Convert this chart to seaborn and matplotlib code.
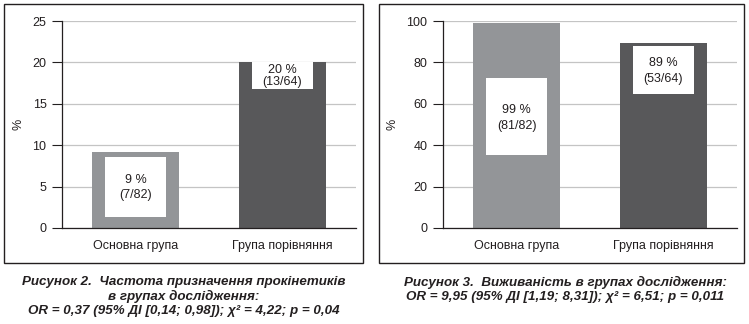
import matplotlib
matplotlib.use("Agg")
import matplotlib.pyplot as plt
from matplotlib.patches import Rectangle
import seaborn as sns

# ---- data ----
categories = ["Основна група", "Група порівняння"]
prokinetics_pct = [9.2, 20.0]
prokinetics_labels = ["9 %\n(7/82)", "20 %\n(13/64)"]
survival_pct = [99.0, 89.3]
survival_labels = ["99 %\n(81/82)", "89 %\n(53/64)"]
left_yticks = [0, 5, 10, 15, 20, 25]
right_yticks = [0, 20, 40, 60, 80, 100]
left_caption = ("Рисунок 2.  Частота призначення прокінетиків\n"
                "в групах дослідження:\n"
                "OR = 0,37 (95% ДІ [0,14; 0,98]); χ² = 4,22; p = 0,04")
right_caption = ("Рисунок 3.  Виживаність в групах дослідження:\n"
                 "OR = 9,95 (95% ДІ [1,19; 8,31]); χ² = 6,51; p = 0,011")

# ---- styling ----
bar_colors = ["#939598", "#58585a"]
# label box extents (data units): (bottom, top), text centre, line spacing
left_boxes = [(1.3, 8.6), (16.8, 20.0)]
left_text_y = [4.9, 18.4]
left_linespacing = [1.4, 1.0]
right_boxes = [(35.3, 72.5), (64.7, 87.9)]
right_text_y = [53.0, 76.0]
right_linespacing = [1.45, 1.45]
FS = 9.0

sns.set_theme(style="white")
plt.rcParams["font.family"] = ["Liberation Sans", "DejaVu Sans"]

W, H = 749, 324
fig = plt.figure(figsize=(W / 100, H / 100), dpi=100)

# panel frames
for (x0, x1) in [(4, 363), (379, 744)]:
    fig.patches.append(Rectangle((x0 / W, 1 - 263 / H), (x1 - x0) / W, (263 - 4) / H,
                                 transform=fig.transFigure, fill=False,
                                 ec="#231f20", lw=1.0, zorder=0))


def draw_panel(ax, values, labels, yticks, boxes, text_y, linesp):
    sns.barplot(x=categories, y=values, hue=categories, palette=bar_colors,
                saturation=1, width=0.59, legend=False, ax=ax, zorder=2,
                edgecolor="none", linewidth=0)
    ax.set_xlim(-0.5, 1.5)
    ax.set_ylim(yticks[0], yticks[-1])
    ax.set_yticks(yticks)
    ax.set_yticklabels([str(t) for t in yticks], fontsize=FS, color="#231f20")
    ax.set_xticks(range(len(categories)))
    ax.set_xticklabels(categories, fontsize=FS, color="#231f20")
    ax.set_xticks([-0.5, 0.5, 1.5], minor=True)
    ax.tick_params(axis="x", which="major", length=0, pad=9)
    ax.tick_params(axis="x", which="minor", length=7.2, width=0.8, color="#231f20", direction="out")
    ax.tick_params(axis="y", length=7.2, width=0.8, color="#231f20", pad=4, direction="out", left=True)
    ax.set_ylabel("%", fontsize=FS, color="#231f20", labelpad=6)
    ax.set_xlabel("")
    ax.grid(axis="y", color="#c4c4c4", lw=0.9)
    ax.set_axisbelow(True)
    for s in ["top", "right"]:
        ax.spines[s].set_visible(False)
    for s in ["left", "bottom"]:
        ax.spines[s].set_color("#231f20")
        ax.spines[s].set_linewidth(0.9)
    ax.set_facecolor("none")
    for p, lab, (lo, hi), ty, ls in zip(ax.patches, labels, boxes, text_y, linesp):
        cx = p.get_x() + p.get_width() / 2
        bw = 0.71 * p.get_width()
        ax.add_patch(Rectangle((cx - bw / 2, lo), bw, hi - lo, fc="white", ec="none", zorder=3))
        ax.text(cx, ty, lab, ha="center", va="center", fontsize=FS, color="#231f20",
                linespacing=ls, zorder=4)


axL = fig.add_axes([62 / W, 1 - 228 / H, (356 - 62) / W, (228 - 21) / H])
draw_panel(axL, prokinetics_pct, prokinetics_labels, left_yticks, left_boxes, left_text_y, left_linespacing)
axR = fig.add_axes([443 / W, 1 - 228 / H, (737 - 443) / W, (228 - 21) / H])
draw_panel(axR, survival_pct, survival_labels, right_yticks, right_boxes, right_text_y, right_linespacing)

fig.text(184 / W, 1 - 276 / H, left_caption, ha="center", va="top", fontsize=9.6,
         fontweight="bold", fontstyle="italic", color="#231f20", linespacing=1.22)
fig.text(565 / W, 1 - 276 / H, right_caption, ha="center", va="top", fontsize=9.6,
         fontweight="bold", fontstyle="italic", color="#231f20", linespacing=1.22)

fig.savefig("out.png", dpi=100, facecolor="white")
